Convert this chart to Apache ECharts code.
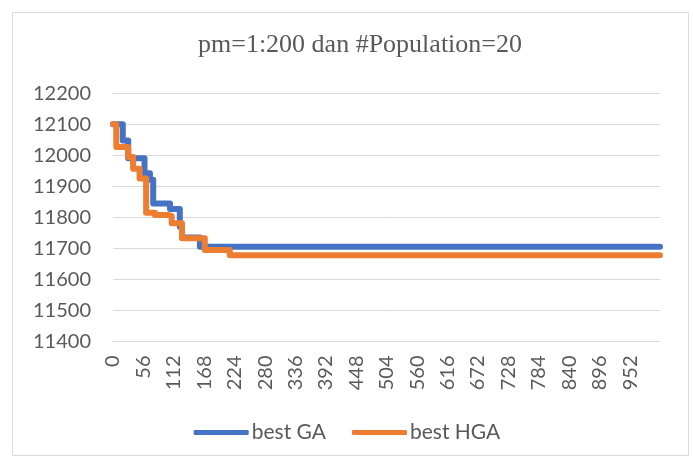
<!DOCTYPE html>
<html>
<head>
<meta charset="utf-8">
<script src="https://cdn.jsdelivr.net/npm/echarts@6/dist/echarts.min.js"></script>
<style>html,body{margin:0;padding:0;background:#fff;}#c{width:694px;height:468px;}</style>
</head>
<body>
<div id="c"></div>
<script>
const titleText = 'pm=1:200 dan #Population=20';
const seriesNames = ['best GA', 'best HGA'];
// generation at which each level starts, and the level value
const gaX = [0, 18, 28, 58, 68, 74, 105, 123, 127, 160, 1007];
const gaY = [12100, 12048, 11991, 11942, 11921, 11845, 11827, 11770, 11735, 11705, 11705];
const hgaX = [0, 6, 28, 37, 49, 61, 77, 101, 108, 127, 169, 215, 1007];
const hgaY = [12100, 12027, 11995, 11957, 11925, 11815, 11808, 11805, 11781, 11733, 11695, 11678, 11678];
const yTicks = [11400, 11500, 11600, 11700, 11800, 11900, 12000, 12100, 12200];

const pair = (xs, ys) => xs.map((x, i) => [x, ys[i]]);
const font = 'Lato';
const txt = '#595959';

const chart = echarts.init(document.getElementById('c'));
chart.setOption({
  animation: false,
  backgroundColor: '#fff',
  graphic: [{
    type: 'rect', shape: {x: 12.5, y: 12.5, width: 676, height: 443},
    style: {fill: 'none', stroke: '#d9d9d9', lineWidth: 1}, silent: true
  }],
  title: {
    text: titleText, left: 355, top: 27, textAlign: 'center',
    textStyle: {fontFamily: 'Liberation Serif', fontSize: 26, fontWeight: 'normal', color: txt}
  },
  grid: {left: 113, right: 34, top: 93.3, bottom: 126.5},
  xAxis: {
    type: 'value', min: 0, max: 1007, interval: 56,
    axisLine: {show: true, lineStyle: {color: '#d9d9d9', width: 1}},
    axisTick: {show: false}, splitLine: {show: false},
    axisLabel: {rotate: 90, margin: 14, fontSize: 20, fontFamily: font, color: txt, showMaxLabel: false,
      formatter: v => String(v)}
  },
  yAxis: {
    type: 'value', min: yTicks[0], max: yTicks[yTicks.length - 1], interval: 100,
    axisLine: {show: false}, axisTick: {show: false},
    splitLine: {lineStyle: {color: '#d9d9d9', width: 1}},
    axisLabel: {margin: 22, fontSize: 20, fontFamily: font, color: txt, formatter: v => String(v)}
  },
  legend: {
    bottom: 20, left: 'center', icon: 'roundRect', itemWidth: 55, itemHeight: 5, itemGap: 26,
    textStyle: {fontSize: 21, fontFamily: font, color: txt, padding: [0, 0, 0, -2]},
    data: seriesNames
  },
  series: [
    {name: seriesNames[0], type: 'line', step: 'end', showSymbol: false, symbol: 'none',
     data: pair(gaX, gaY), color: '#4472C4', lineStyle: {width: 6, color: '#4472C4', join: 'round', cap: 'round'}},
    {name: seriesNames[1], type: 'line', step: 'end', showSymbol: false, symbol: 'none',
     data: pair(hgaX, hgaY), color: '#ED7D31', lineStyle: {width: 6, color: '#ED7D31', join: 'round', cap: 'round'}}
  ]
});
</script>
</body>
</html>
